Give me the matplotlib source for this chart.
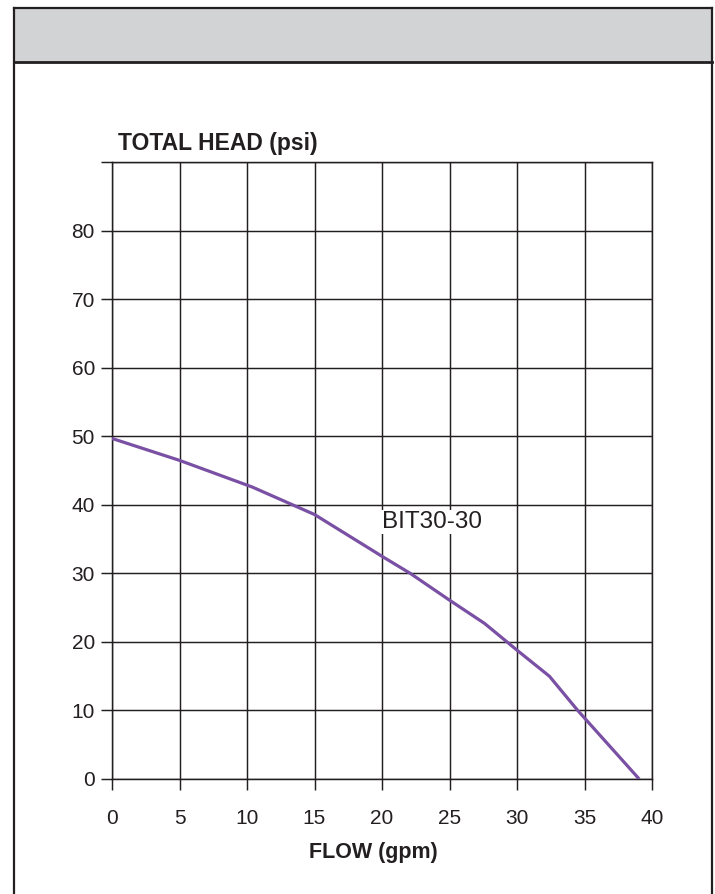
import matplotlib
matplotlib.use("Agg")
import matplotlib.pyplot as plt
from matplotlib.patches import Rectangle
from matplotlib.lines import Line2D

plt.rcParams['font.family'] = ['Liberation Sans', 'DejaVu Sans']

# данные кривой
flow = [0, 5, 10.4, 15, 20, 22.1, 25, 27.6, 30, 32.4, 34.5, 39.05]
head = [49.7, 46.5, 42.6, 38.6, 32.5, 30.0, 26.1, 22.7, 18.8, 15.0, 10.0, 0.0]
x_ticks = [0, 5, 10, 15, 20, 25, 30, 35, 40]
y_ticks = [0, 10, 20, 30, 40, 50, 60, 70, 80, 90]
y_labels = ['0', '10', '20', '30', '40', '50', '60', '70', '80', '']
curve_name = "BIT30-30"

ink = '#231f20'
purple = '#7a50a4'

W, H = 715, 894
fig = plt.figure(figsize=(W / 100, H / 100), dpi=100)


def fx(px):
    return px / W


def fy(py):
    return 1 - py / H


# шапка и рамка
fig.patches.append(Rectangle((fx(14), fy(62)), fx(712) - fx(14), fy(8) - fy(62),
                             transform=fig.transFigure, facecolor='#d1d3d4', edgecolor='none', zorder=0))
for xs, ys, lw in [([14, 712], [8, 8], 1.6), ([14, 712], [62, 62], 2.0),
                   ([14, 14], [8, 894], 1.6), ([712, 712], [8, 894], 1.6)]:
    fig.lines.append(Line2D([fx(v) for v in xs], [fy(v) for v in ys], transform=fig.transFigure,
                            color=ink, lw=lw))

ax = fig.add_axes([fx(112), fy(779), fx(652) - fx(112), fy(162.3) - fy(779)])
ax.set_xlim(0, 40)
ax.set_ylim(0, 90)
ax.set_xticks(x_ticks)
ax.set_yticks(y_ticks)
ax.set_yticklabels(y_labels)
ax.grid(True, color=ink, lw=1.05)
ax.set_axisbelow(True)
for s in ax.spines.values():
    s.set_color(ink)
    s.set_linewidth(1.05)
ax.tick_params(axis='x', length=8, width=1.05, color=ink, pad=13.5, labelsize=15, labelcolor=ink)
ax.tick_params(axis='y', length=8, width=1.05, color=ink, pad=4.3, labelsize=15, labelcolor=ink)

ax.plot(flow, head, color=purple, lw=2.3, solid_capstyle='butt', zorder=3)
ax.text(20, 37.5, curve_name, fontsize=17.5, color=ink, ha='left', va='center',
        bbox=dict(facecolor='white', edgecolor='none', pad=1.0), zorder=2)

fig.text(fx(118), fy(150), "TOTAL HEAD (psi)", fontsize=16.5, fontweight='bold', color=ink,
         ha='left', va='baseline')
fig.text(fx(373), fy(858), "FLOW (gpm)", fontsize=15.5, fontweight='bold', color=ink,
         ha='center', va='baseline')

fig.savefig("out.png", dpi=100)
